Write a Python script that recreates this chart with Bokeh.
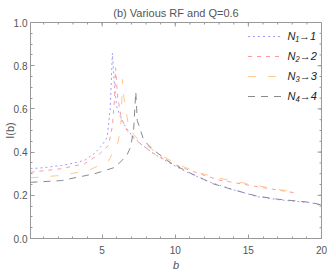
import math
from bokeh.plotting import figure
from bokeh.models import FixedTicker, PrintfTickFormatter, Legend, LegendItem, Range1d
from bokeh.embed import file_html
from bokeh.resources import INLINE

# ---- data ----
b1 = [0.1, 1.0, 2.2, 3.0, 3.8, 4.5, 5.0, 5.35, 5.55, 5.7, 5.85, 6.0, 6.37, 7.0, 7.6, 8.5, 9.7, 10.8, 12.5, 14.0, 15.6, 17.0, 19.3, 20.0]
I1 = [0.323, 0.328, 0.338, 0.348, 0.362, 0.395, 0.432, 0.47, 0.6, 0.858, 0.7, 0.61, 0.54, 0.48, 0.44, 0.393, 0.346, 0.307, 0.258, 0.225, 0.194, 0.18, 0.165, 0.153]

b2 = [0.1, 2.2, 3.8, 4.8, 5.43, 5.7, 5.85, 5.92, 6.05, 6.3, 6.7, 7.2, 8.5, 9.7, 11.0, 12.9, 15.6, 18.4]
I2 = [0.307, 0.323, 0.346, 0.39, 0.431, 0.52, 0.65, 0.79, 0.66, 0.56, 0.5, 0.46, 0.395, 0.35, 0.315, 0.272, 0.24, 0.209]

b3 = [0.1, 2.2, 4.06, 5.43, 6.1, 6.3, 6.39, 6.48, 6.82, 7.3, 7.85, 9.0, 10.36, 11.5, 12.9, 14.0, 15.4, 16.75, 18.4]
I3 = [0.281, 0.292, 0.315, 0.358, 0.447, 0.55, 0.737, 0.656, 0.516, 0.47, 0.439, 0.385, 0.338, 0.307, 0.281, 0.265, 0.248, 0.23, 0.213]

b4 = [0.1, 2.2, 4.5, 5.9, 6.69, 6.94, 7.15, 7.3, 7.4, 7.85, 8.5, 9.7, 10.8, 12.6, 14.0, 15.6, 17.0, 19.3, 20.0]
I4 = [0.26, 0.268, 0.3, 0.33, 0.385, 0.423, 0.5, 0.679, 0.547, 0.454, 0.41, 0.35, 0.31, 0.253, 0.225, 0.196, 0.182, 0.167, 0.155]

labels = ["N\u2081\u21921", "N\u2082\u21922", "N\u2083\u21923", "N\u2084\u21924"]
x_major = [5, 10, 15, 20]
x_minor = list(range(1, 21))
y_major = [0.0, 0.2, 0.4, 0.6, 0.8, 1.0]
y_minor = [round(i * 0.05, 2) for i in range(21)]
x_min, x_max = 0.1, 20
y_min, y_max = 0.0, 1.0

FONT = "Liberation Sans"
GRAY = "#555555"
TICK = "#999999"

p = figure(width=327, height=273, output_backend="svg", toolbar_location=None,
           x_range=Range1d(x_min, x_max), y_range=Range1d(y_min, y_max),
           min_border_left=30, min_border_right=6, min_border_top=22,
           min_border_bottom=35)
p.xgrid.visible = False
p.ygrid.visible = False
p.outline_line_color = TICK
p.background_fill_color = "white"
p.border_fill_color = "white"

p.title.text = "(b) Various RF and Q=0.6"
p.title.align = "center"
p.title.text_font = FONT
p.title.text_font_size = "11px"
p.title.text_font_style = "normal"
p.title.text_color = GRAY
p.title.standoff = 7
p.title.offset = 0

for ax in (p.xaxis[0], p.yaxis[0]):
    ax.axis_line_color = TICK
    ax.major_tick_line_color = TICK
    ax.minor_tick_line_color = TICK
    ax.major_tick_in = 4
    ax.major_tick_out = 0
    ax.minor_tick_in = 2
    ax.minor_tick_out = 0
    ax.major_label_text_font = FONT
    ax.major_label_text_color = GRAY
    ax.major_label_text_font_size = "10px"
    ax.axis_label_text_font = FONT
    ax.axis_label_text_color = GRAY
    ax.axis_label_text_font_size = "11px"

p.xaxis.ticker = FixedTicker(ticks=x_major, minor_ticks=x_minor)
p.yaxis.ticker = FixedTicker(ticks=y_major, minor_ticks=y_minor)
p.yaxis.formatter = PrintfTickFormatter(format="%.1f")
p.xaxis.major_label_standoff = 7
p.xaxis.axis_label = "b"
p.xaxis.axis_label_text_font_style = "italic"
p.xaxis.axis_label_standoff = 2
p.yaxis.major_label_standoff = 3
p.yaxis.axis_label = "I(b)"
p.yaxis.axis_label_text_font_style = "normal"
p.yaxis.axis_label_standoff = -5

# inward ticks on top and right edges of the frame
p.ray(x=x_major, y=[y_max] * len(x_major), length=4, length_units="screen",
      angle=-math.pi / 2, line_color=TICK, line_width=1)
p.ray(x=x_minor, y=[y_max] * len(x_minor), length=2, length_units="screen",
      angle=-math.pi / 2, line_color=TICK, line_width=1)
p.ray(x=[x_max] * len(y_major), y=y_major, length=4, length_units="screen",
      angle=math.pi, line_color=TICK, line_width=1)
p.ray(x=[x_max] * len(y_minor), y=y_minor, length=2, length_units="screen",
      angle=math.pi, line_color=TICK, line_width=1)

r1 = p.line(b1, I1, line_color="#9d9dff", line_width=1, line_dash="2 3")
r2 = p.line(b2, I2, line_color="#ff9a9a", line_width=1, line_dash="4 5")
r3 = p.line(b3, I3, line_color="#ffc890", line_width=1, line_dash="8 12")
r4 = p.line(b4, I4, line_color="#8a8a8a", line_width=1, line_dash="7 6")

legend = Legend(items=[LegendItem(label=labels[i], renderers=[r]) for i, r in enumerate([r1, r2, r3, r4])],
                location="top_right", border_line_color=None, background_fill_alpha=0,
                glyph_width=35, glyph_height=20, label_height=20, label_standoff=5,
                spacing=0, padding=0, margin=4,
                label_text_font=FONT, label_text_font_size="11px",
                label_text_font_style="italic", label_text_color="#222222")
p.add_layout(legend)

open("out.html", "w").write(file_html(p, INLINE))
